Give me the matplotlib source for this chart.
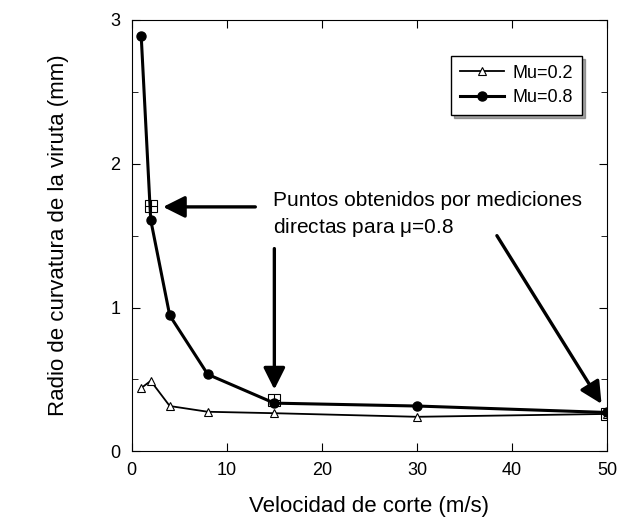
import matplotlib
matplotlib.use("Agg")
import matplotlib.pyplot as plt
from matplotlib.ticker import MultipleLocator

plt.rcParams['font.family'] = ['Liberation Sans', 'DejaVu Sans']

# data
vel = [1, 2, 4, 8, 15, 30, 50]
mu02 = [0.44, 0.49, 0.315, 0.275, 0.265, 0.24, 0.26]
mu08 = [2.89, 1.61, 0.945, 0.535, 0.335, 0.315, 0.27]
# measured points for mu=0.8
vel_med = [2, 15, 50]
rad_med = [1.705, 0.355, 0.26]

fig = plt.figure(figsize=(6.2, 5.26), dpi=100)
ax = fig.add_axes([0.2124, 0.142, 0.767, 0.820])

ax.plot(vel, mu02, color='black', lw=1.3, marker='^', ms=6,
        mfc='white', mec='black', mew=0.8, label='Mu=0.2')
ax.plot(vel, mu08, color='black', lw=2.2, marker='o', ms=6.5,
        mfc='black', mec='black', label='Mu=0.8')
ax.plot(vel_med, rad_med, ls='none', marker='s', ms=9, mfc='none',
        mec='black', mew=0.8)
ax.plot(vel_med, rad_med, ls='none', marker='+', ms=9, mec='black', mew=0.8)

ax.set_xlim(0, 50)
ax.set_ylim(0, 3)
ax.xaxis.set_major_locator(MultipleLocator(10))
ax.yaxis.set_major_locator(MultipleLocator(1))
ax.yaxis.set_minor_locator(MultipleLocator(0.5))
ax.tick_params(direction='in', top=True, right=True, labelsize=13, length=6, pad=8)
ax.tick_params(which='minor', direction='in', right=True, length=4)

ax.set_xlabel('Velocidad de corte (m/s)', fontsize=16, labelpad=12)
ax.set_ylabel('Radio de curvatura de la viruta (mm)', fontsize=16, labelpad=30)

leg = ax.legend(loc='upper left', bbox_to_anchor=(0.653, 0.938), fontsize=13,
                frameon=True, fancybox=False, shadow=True, edgecolor='black',
                handlelength=2.4, handletextpad=0.5, borderpad=0.5,
                labelspacing=0.4)
leg.get_frame().set_linewidth(1.0)

ax.text(14.85, 1.745, 'Puntos obtenidos por mediciones', fontsize=15, va='center')
ax.text(14.85, 1.557, 'directas para $\\mathregular{\\mu}$=0.8', fontsize=15, va='center')

arrow = dict(arrowstyle='-|>,head_length=0.6,head_width=0.3', color='black',
             lw=2.4, mutation_scale=22, shrinkA=0, shrinkB=0)
ax.annotate('', xy=(3.3, 1.70), xytext=(13.0, 1.70), arrowprops=arrow)
ax.annotate('', xy=(15, 0.43), xytext=(15, 1.41), arrowprops=arrow)
ax.annotate('', xy=(49.4, 0.33), xytext=(38.4, 1.50), arrowprops=arrow)

fig.savefig('out.png', dpi=100)
